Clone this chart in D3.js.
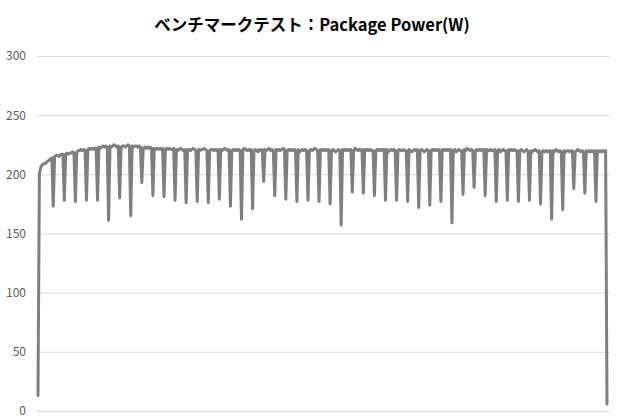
<!DOCTYPE html>
<html>
<head>
<meta charset="utf-8">
<script src="https://cdn.jsdelivr.net/npm/d3@7/dist/d3.min.js"></script>
<style>
  html, body { margin: 0; padding: 0; background: #ffffff; }
  svg { display: block; }
</style>
</head>
<body>
<div id="chart"></div>
<script>
// Benchmark package power trace, one value per sample (W)
const chartTitle = 'ベンチマークテスト：Package Power(W)';
const yTicks = [0, 50, 100, 150, 200, 250, 300];
const power = [
  13, 200, 206, 208, 209, 209, 210, 211, 212, 213, 214,
  173, 215, 216, 216, 215, 216, 217, 217,
  178, 217, 218, 217, 218, 218, 219, 218,
  177, 219, 220, 220, 221, 220, 221, 220,
  178, 221, 222, 221, 222, 221, 222, 222,
  178, 223, 222, 223, 224, 223, 224, 223,
  161, 224, 223, 224, 225, 224, 223, 224,
  180, 223, 224, 224, 223, 224, 225, 224,
  165, 224, 223, 224, 224, 223, 224, 223,
  193, 222, 223, 222, 223, 222, 223, 222,
  182, 222, 221, 222, 221, 222, 221, 222,
  181, 221, 222, 221, 222, 221, 221, 222,
  178, 221, 220, 221, 222, 221, 220, 221,
  176, 221, 221, 220, 221, 222, 221, 220,
  177, 221, 220, 221, 221, 222, 221, 220,
  176, 220, 221, 221, 220, 221, 220, 221,
  179, 221, 220, 221, 222, 221, 220, 221,
  173, 220, 221, 220, 221, 220, 221, 220,
  162, 221, 222, 221, 220, 221, 220, 221,
  171, 220, 221, 220, 219, 221, 220, 221,
  194, 221, 220, 221, 222, 220, 221, 220,
  182, 221, 220, 221, 220, 221, 222, 221,
  179, 220, 221, 220, 221, 220, 221, 220,
  177, 221, 219, 220, 221, 220, 221, 220,
  178, 220, 221, 220, 221, 222, 221, 220,
  177, 221, 220, 221, 220, 221, 220, 221,
  175, 220, 221, 220, 219, 220, 221, 220,
  157, 221, 220, 221, 220, 221, 220, 221,
  185, 220, 222, 221, 220, 221, 220, 221,
  184, 221, 220, 221, 220, 221, 220, 220,
  182, 220, 221, 220, 221, 220, 221, 221,
  178, 221, 219, 220, 221, 220, 221, 220,
  178, 220, 221, 220, 220, 221, 220, 220,
  177, 221, 220, 219, 220, 221, 220, 221,
  172, 220, 221, 220, 219, 220, 221, 220,
  174, 220, 221, 220, 221, 220, 221, 220,
  177, 221, 220, 221, 220, 221, 220, 221,
  159, 220, 221, 219, 220, 221, 220, 220,
  183, 221, 220, 222, 221, 220, 221, 220,
  189, 220, 221, 220, 221, 220, 221, 221,
  182, 221, 220, 220, 221, 220, 220, 221,
  177, 220, 221, 219, 220, 221, 220, 220,
  178, 221, 220, 221, 220, 221, 220, 220,
  177, 220, 221, 220, 219, 220, 221, 219,
  178, 220, 219, 220, 221, 220, 219, 220,
  175, 219, 220, 219, 220, 219, 220, 220,
  162, 220, 219, 221, 220, 219, 220, 219,
  170, 220, 219, 220, 220, 219, 220, 220,
  188, 219, 220, 221, 220, 219, 220, 219,
  184, 220, 219, 220, 219, 220, 219, 220,
  177, 220, 219, 220, 219, 220, 219, 220,
  6
];

const width = 620;
const height = 420;
const margin = { top: 56, right: 10, bottom: 9, left: 37 };

const svg = d3.select('#chart')
    .append('svg')
    .attr('width', width)
    .attr('height', height);

const x = d3.scaleLinear()
    .domain([0, power.length - 1])
    .range([38, 607]);

const y = d3.scaleLinear()
    .domain([0, 300])
    .range([height - margin.bottom, margin.top]);

// Title
svg.append('text')
    .attr('x', 312)
    .attr('y', 31)
    .attr('text-anchor', 'middle')
    .attr('font-family', '"Noto Sans CJK JP", "Noto Sans", sans-serif')
    .attr('font-weight', 'bold')
    .attr('font-size', '16.5px')
    .attr('fill', '#000000')
    .text(chartTitle);

// Gridlines + labels through a left axis
const yAxis = d3.axisLeft(y)
    .tickValues(yTicks)
    .tickSize(-(width - margin.right - margin.left))
    .tickPadding(11);

const axisG = svg.append('g')
    .attr('transform', 'translate(' + margin.left + ',0)')
    .call(yAxis);

axisG.select('.domain').remove();
axisG.selectAll('.tick line')
    .attr('stroke', '#d9d9d9')
    .attr('stroke-width', 1);
axisG.selectAll('.tick text')
    .attr('fill', '#595959')
    .attr('font-family', '"Noto Sans CJK JP", "Noto Sans", sans-serif')
    .attr('font-size', '12px');

// Power line
const line = d3.line()
    .x((d, i) => x(i))
    .y(d => y(d));

svg.append('path')
    .datum(power)
    .attr('fill', 'none')
    .attr('stroke', '#7f7f7f')
    .attr('stroke-width', 3)
    .attr('stroke-linejoin', 'round')
    .attr('stroke-linecap', 'round')
    .attr('d', line);
</script>
</body>
</html>
